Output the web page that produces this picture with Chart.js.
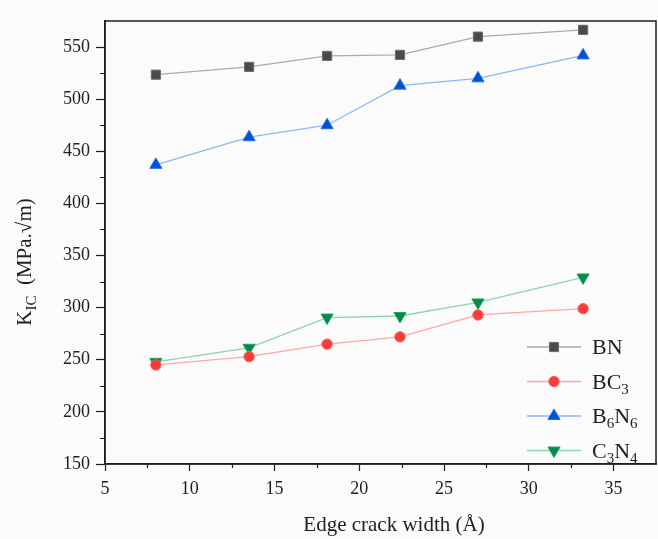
<!DOCTYPE html>
<html>
<head>
<meta charset="utf-8">
<script src="https://cdn.jsdelivr.net/npm/chart.js@4.4.1/dist/chart.umd.min.js"></script>
<style>
  html, body { margin: 0; padding: 0; background: #fbfbfb; }
  #wrap { width: 658px; height: 539px; }
</style>
</head>
<body>
<div id="wrap"><canvas id="canvas-1" width="658" height="539"></canvas></div>
<script>
  'use strict';

  // crack width, Å
  var widths = [8, 13.5, 18.1, 22.4, 27, 33.2];
  var bnData = [523.5, 531, 541.5, 542.5, 560, 566.5];
  var bc3Data = [245, 253, 265, 272, 293, 299];
  var b6n6Data = [437, 463.5, 475, 513, 520, 542];
  var c3n4Data = [248, 261.5, 290.5, 292, 305, 329];

  var xTicks = [5, 10, 15, 20, 25, 30, 35];
  var yTicks = [150, 200, 250, 300, 350, 400, 450, 500, 550];

  var serif = '"Liberation Serif", "DejaVu Serif", serif';
  var ink = '#1e1e1e';

  function pts(ys) {
    return widths.map(function (x, i) { return { x: x, y: ys[i] }; });
  }

  var series = [
    { label: 'BN', sub: [['BN', false]], data: bnData, line: '#ababab', fill: '#4a4a4a', edge: '#6e6e6e', style: 'rect', radius: 6.5, rot: 0 },
    { label: 'BC3', sub: [['BC', false], ['3', true]], data: bc3Data, line: '#ffa6a6', fill: '#f53d3d', edge: '#ff5c5c', style: 'circle', radius: 5.2, rot: 0 },
    { label: 'B6N6', sub: [['B', false], ['6', true], ['N', false], ['6', true]], data: b6n6Data, line: '#8fb6f2', fill: '#0052d4', edge: '#2a6fe0', style: 'triangle', radius: 7, rot: 0 },
    { label: 'C3N4', sub: [['C', false], ['3', true], ['N', false], ['4', true]], data: c3n4Data, line: '#90d2b0', fill: '#008c48', edge: '#22a262', style: 'triangle', radius: 7, rot: 180 }
  ];

  var datasets = series.map(function (s) {
    return {
      label: s.label,
      data: pts(s.data),
      showLine: true,
      borderColor: s.line,
      borderWidth: 1.3,
      pointStyle: s.style,
      pointRadius: s.radius,
      pointRotation: s.rot,
      pointBackgroundColor: s.fill,
      pointBorderColor: s.edge,
      pointBorderWidth: 1,
      tension: 0
    };
  });

  // minor ticks, frame and custom titles/legend
  var decor = {
    id: 'decor',
    afterDraw: function (chart) {
      var c = chart.ctx, a = chart.chartArea;
      var xs = chart.scales.x, ys = chart.scales.y;
      c.save();
      c.strokeStyle = ink;
      c.lineWidth = 1.5;
      c.strokeRect(a.left, a.top, a.right - a.left, a.bottom - a.top);

      c.lineWidth = 1.2;
      c.beginPath();
      for (var v = 7.5; v < 37.5; v += 5) {
        var px = Math.round(xs.getPixelForValue(v)) + 0.5;
        c.moveTo(px, a.bottom); c.lineTo(px, a.bottom + 4);
      }
      for (var w = 175; w < 575; w += 50) {
        var py = Math.round(ys.getPixelForValue(w)) + 0.5;
        c.moveTo(a.left, py); c.lineTo(a.left - 5, py);
      }
      c.stroke();

      // x title
      c.fillStyle = ink;
      c.font = '21px ' + serif;
      c.textAlign = 'center';
      c.textBaseline = 'alphabetic';
      c.fillText('Edge crack width (Å)', 394, 531);

      // y title with subscript
      c.translate(31, 262);
      c.rotate(-Math.PI / 2);
      var big = '21px ' + serif, small = '15px ' + serif;
      var parts = [['K', big, 0], ['IC', small, 5], ['  (MPa.√m)', big, 0]];
      var total = 0;
      parts.forEach(function (p) { c.font = p[1]; total += c.measureText(p[0]).width; });
      var x0 = -total / 2;
      c.textAlign = 'left';
      parts.forEach(function (p) {
        c.font = p[1];
        c.fillText(p[0], x0, p[2]);
        x0 += c.measureText(p[0]).width;
      });
      c.restore();

      // legend
      c.save();
      series.forEach(function (s, i) {
        var y = 347 + i * 34.5;
        c.strokeStyle = s.line;
        c.lineWidth = 1.5;
        c.beginPath();
        c.moveTo(527, y); c.lineTo(581, y);
        c.stroke();
        c.fillStyle = s.fill;
        c.strokeStyle = s.edge;
        c.lineWidth = 1;
        Chart.helpers.drawPoint(c, { pointStyle: s.style, radius: s.radius, rotation: s.rot, borderWidth: 1 }, 554, y);
        var tx = 592;
        c.fillStyle = ink;
        c.textAlign = 'left';
        c.textBaseline = 'alphabetic';
        s.sub.forEach(function (p) {
          c.font = (p[1] ? '15px ' : '22px ') + serif;
          c.fillText(p[0], tx, y + 7 + (p[1] ? 5 : 0));
          tx += c.measureText(p[0]).width;
        });
      });
      c.restore();
    }
  };

  var ctx = document.getElementById('canvas-1');
  var chart = new Chart(ctx, {
    type: 'scatter',
    data: { datasets: datasets },
    plugins: [decor],
    options: {
      responsive: false,
      animation: false,
      layout: { autoPadding: false, padding: { top: 21, right: 2, left: 0, bottom: 0 } },
      plugins: { legend: { display: false }, tooltip: { enabled: false } },
      scales: {
        x: {
          type: 'linear',
          min: 5,
          max: 37.5,
          afterBuildTicks: function (scale) {
            scale.ticks = xTicks.map(function (v) { return { value: v }; });
          },
          afterFit: function (scale) { scale.height = 75; },
          grid: { drawOnChartArea: false, tickLength: 7, color: ink, tickWidth: 1.2 },
          border: { color: ink, width: 1.5 },
          ticks: { color: ink, font: { family: serif, size: 18 }, padding: 7, maxRotation: 0 }
        },
        y: {
          type: 'linear',
          min: 150,
          max: 575,
          afterBuildTicks: function (scale) {
            scale.ticks = yTicks.map(function (v) { return { value: v }; });
          },
          afterFit: function (scale) { scale.width = 105; },
          grid: { drawOnChartArea: false, tickLength: 9, color: ink, tickWidth: 1.2 },
          border: { color: ink, width: 1.5 },
          ticks: { color: ink, font: { family: serif, size: 18 }, padding: 6 }
        }
      }
    }
  });
</script>
</body>
</html>
